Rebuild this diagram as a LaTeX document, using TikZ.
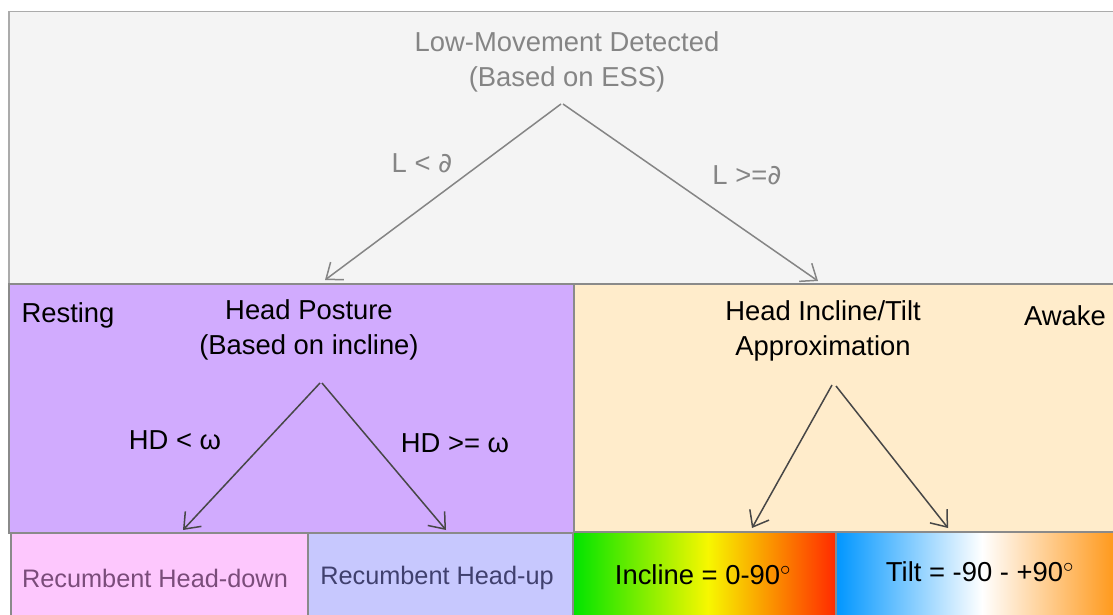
\documentclass[tikz,border=0pt]{standalone}
\usepackage{fontspec}
\setmainfont{Liberation Sans}
\newfontfamily\symfont{DejaVu Sans}
\usepackage{tikz}
\usetikzlibrary{arrows.meta}
\definecolor{topfill}{HTML}{F4F4F4}
\definecolor{topline}{HTML}{ABABAB}
\definecolor{restfill}{HTML}{D1ABFE}
\definecolor{awakefill}{HTML}{FFECCB}
\definecolor{downfill}{HTML}{FDC7FD}
\definecolor{upfill}{HTML}{C7C8FE}
\definecolor{boxline}{HTML}{8A8A8A}
\definecolor{softtext}{HTML}{858585}
\definecolor{darkline}{HTML}{474747}
\definecolor{downtext}{HTML}{7A4C7A}
\definecolor{uptext}{HTML}{40406E}
\definecolor{gGreen}{HTML}{00E400}
\definecolor{gYellow}{HTML}{F7F700}
\definecolor{gRed}{HTML}{FF2A00}
\definecolor{gBlue}{HTML}{0096FF}
\definecolor{gOrange}{HTML}{FF9A1E}

\begin{document}
\begin{tikzpicture}[x=1pt,y=-1pt,
  box/.style={draw=boxline,line width=1.5pt,anchor=north west,inner sep=0pt},
  txt/.style={font=\fontsize{27.4}{35}\selectfont,align=center,inner sep=1pt},
  small/.style={txt,font=\fontsize{25.3}{35}\selectfont},
  arr/.style={line width=1.5pt,-{Straight Barb[length=14pt,width=22pt,line width=1.5pt]}}]
\useasboundingbox (0,0) rectangle (1113,615);
\clip (0,0) rectangle (1113,615);
% boxes
\node[box,draw=topline,fill=topfill,minimum width=1130pt,minimum height=272pt] (lowmove) at (8,11) {};
\node[box,fill=restfill,minimum width=565pt,minimum height=249pt] (rest) at (8,283) {};
\node[box,fill=awakefill,minimum width=560pt,minimum height=249pt] (awake) at (573,283) {};
\node[box,fill=downfill,minimum width=297pt,minimum height=100pt] (hdown) at (10,532) {};
\node[box,fill=upfill,minimum width=266pt,minimum height=100pt] (hup) at (307,532) {};
\shade[left color=gGreen,right color=gYellow] (573,532) rectangle (708,640);
\shade[left color=gYellow,right color=gRed] (708,532) rectangle (836,640);
\shade[left color=gBlue,right color=white] (836,532) rectangle (982,640);
\shade[left color=white,right color=gOrange] (982,532) rectangle (1113,640);
\draw[boxline,line width=1.5pt] (573,532) -- (1113,532) (836,532) -- (836,640) (573,532) -- (573,640);
% texts
\node[txt,text=softtext] (lmtitle) at (567,62) {Low-Movement Detected\\(Based on ESS)};
\node[txt,text=softtext] (ltlab) at (422,163) {L < {\symfont ∂}};
\node[txt,text=softtext] (gelab) at (747,175) {L >={\symfont ∂}};
\node[txt] (restlab) at (68,315) {Resting};
\node[txt] (posture) at (309,330) {Head Posture\\(Based on incline)};
\node[txt] (hdlt) at (175,440) {HD < ω};
\node[txt] (hdge) at (455,443) {HD >= ω};
\node[txt] (incltilt) at (823,331) {Head Incline/Tilt\\Approximation};
\node[txt] (awakelab) at (1065,316) {Awake};
\node[small,text=downtext] (downlab) at (155,578) {Recumbent Head-down};
\node[small,text=uptext] (uplab) at (437,578) {Recumbent Head-up};
\node[txt] (incl) at (703,575) {Incline = 0-90$^{\circ}$};
\node[txt] (tilt) at (980,572) {Tilt = -90 - +90$^{\circ}$};
% connectors
\coordinate (lmA) at (561,104); \coordinate (lmB) at (563,104);
\coordinate (restIn) at (325,280); \coordinate (awakeIn) at (818,281);
\coordinate (hpA) at (320,383); \coordinate (hpB) at (322,383);
\coordinate (downIn) at (183,530); \coordinate (upIn) at (446,530);
\coordinate (itA) at (832,385); \coordinate (itB) at (836,386);
\coordinate (inclIn) at (752,528); \coordinate (tiltIn) at (948,528);
\draw[arr,softtext] (lmA) -- (restIn);
\draw[arr,softtext] (lmB) -- (awakeIn);
\draw[arr,darkline] (hpA) -- (downIn);
\draw[arr,darkline] (hpB) -- (upIn);
\draw[arr,darkline] (itA) -- (inclIn);
\draw[arr,darkline] (itB) -- (tiltIn);
\end{tikzpicture}
\end{document}
